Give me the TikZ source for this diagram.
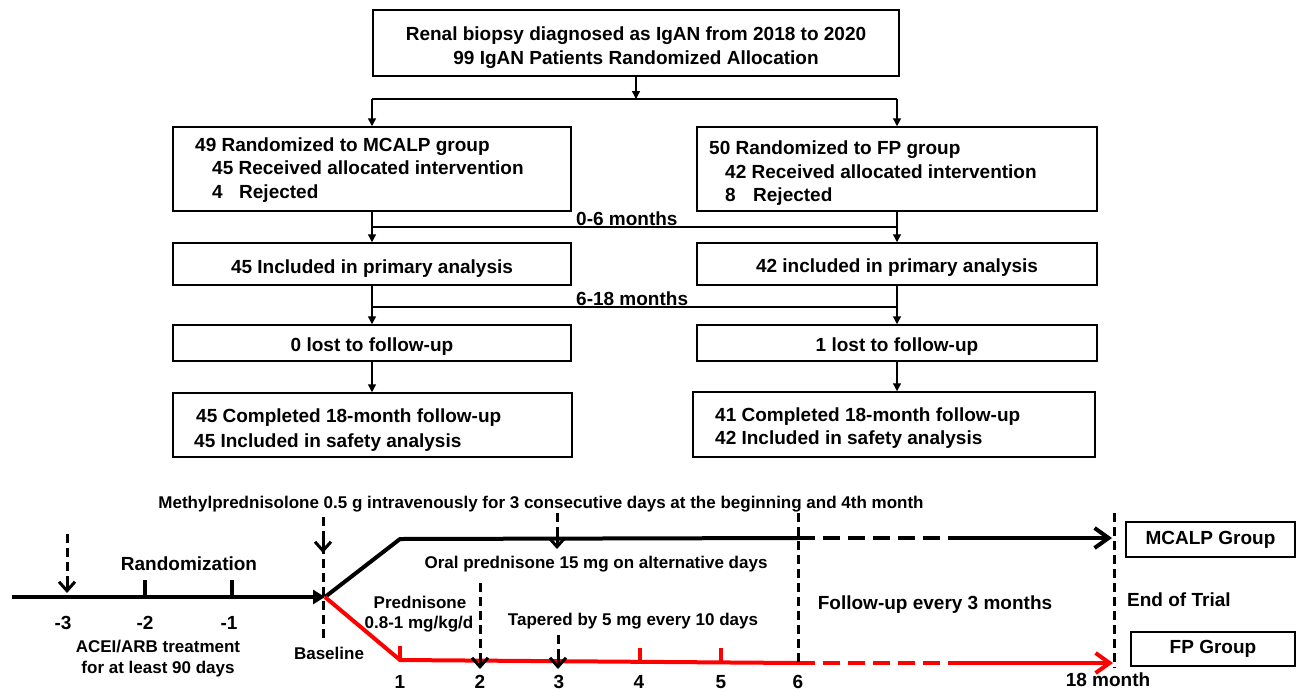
\documentclass[tikz,border=0pt]{standalone}
\usepackage{fontspec}
\setmainfont{Liberation Sans}
\usetikzlibrary{arrows.meta}
\begin{document}
\begin{tikzpicture}[x=1pt,y=-1pt,
  big/.style={font=\bfseries\fontsize{19}{23}\selectfont},
  small/.style={font=\bfseries\fontsize{17}{20}\selectfont},
  box/.style={draw, line width=1.5pt, inner sep=0pt, big},
  tb/.style={inner sep=0pt, anchor=base, big},
  tbw/.style={inner sep=0pt, anchor=base west, big},
  ts/.style={inner sep=0pt, anchor=base, small},
  ln/.style={line width=1.4pt},
  flow/.style={line width=1.4pt, -{Triangle[length=8pt,width=8pt]}},
  tl/.style={line width=4pt},
  tlred/.style={line width=4pt, red},
  hdash/.style={dash pattern=on 17pt off 8pt},
  dline/.style={line width=3pt, dash pattern=on 9pt off 5pt},
  vtip/.style={line width=3pt, -{Straight Barb[length=9pt,width=16pt]}},
  endarrow/.style={-{Straight Barb[length=14pt,width=20pt]}}
]
\useasboundingbox (0,0) rectangle (1298,691);

% ---------- flowchart boxes ----------
\node[box, minimum width=526, minimum height=66] (top) at (636,43) {};
\node[tb] (top1) at (636,40) {Renal biopsy diagnosed as IgAN from 2018 to 2020};
\node[tb] (top2) at (636,64) {99 IgAN Patients Randomized Allocation};

\node[box, minimum width=398, minimum height=84] (b2l) at (372,169) {};
\node[tbw] (b2l1) at (195,151) {49 Randomized to MCALP group};
\node[tbw] (b2l2) at (212,174) {45 Received allocated intervention};
\node[tbw] (b2l3) at (212,198) {4};
\node[tbw] (b2l4) at (239,198) {Rejected};

\node[box, minimum width=400, minimum height=84] (b2r) at (897,169) {};
\node[tbw] (b2r1) at (709,154) {50 Randomized to FP group};
\node[tbw] (b2r2) at (725,178) {42 Received allocated intervention};
\node[tbw] (b2r3) at (725,201) {8};
\node[tbw] (b2r4) at (753,201) {Rejected};

\node[box, minimum width=398, minimum height=42] (b3l) at (372,264) {};
\node[tb] (b3lt) at (372,273) {45 Included in primary analysis};
\node[box, minimum width=400, minimum height=42] (b3r) at (897,264) {};
\node[tb] (b3rt) at (897,272) {42 included in primary analysis};

\node[box, minimum width=398, minimum height=36] (b4l) at (372,343) {};
\node[tb] (b4lt) at (372,351) {0 lost to follow-up};
\node[box, minimum width=400, minimum height=36] (b4r) at (897,343) {};
\node[tb] (b4rt) at (897,351) {1 lost to follow-up};

\node[box, minimum width=399, minimum height=64] (b5l) at (372.5,425) {};
\node[tbw] (b5l1) at (196,422) {45 Completed 18-month follow-up};
\node[tbw] (b5l2) at (194,447) {45 Included in safety analysis};
\node[box, minimum width=402, minimum height=65] (b5r) at (894,424.5) {};
\node[tbw] (b5r1) at (715,421) {41 Completed 18-month follow-up};
\node[tbw] (b5r2) at (715,444) {42 Included in safety analysis};

% ---------- flowchart connectors ----------
\coordinate (split) at (636,99);
\coordinate (m06) at (0,227);
\coordinate (m618) at (0,307);
\draw[flow] (top.south) -- (split);
\draw[ln] (b2l.north |- split) -- (b2r.north |- split);
\draw[flow] (b2l.north |- split) -- (b2l.north);
\draw[flow] (b2r.north |- split) -- (b2r.north);

\draw[flow] (b2l.south) -- (b3l.north);
\draw[flow] (b2r.south) -- (b3r.north);
\draw[ln] (b2l.south |- m06) -- (b2r.south |- m06);
\node[tbw] (l06) at (576,225) {0-6 months};

\draw[flow] (b3l.south) -- (b4l.north);
\draw[flow] (b3r.south) -- (b4r.north);
\draw[ln] (b3l.south |- m618) -- (b3r.south |- m618);
\node[tbw] (l618) at (576,305) {6-18 months};

\draw[flow] (b4l.south) -- (b4l.south |- b5l.north);
\draw[flow] (b4r.south) -- (b4r.south |- b5r.north);

% ---------- timeline ----------
\coordinate (t0) at (12,597);
\coordinate (base) at (325,597);
\coordinate (bk1) at (400,539);
\coordinate (bk6) at (798,538);
\coordinate (bkd) at (955,538);
\coordinate (bkend) at (1112,538);
\coordinate (rd1) at (400,660);
\coordinate (rd6) at (798,663);
\coordinate (rdd) at (957,663);
\coordinate (rdend) at (1113,663);

\draw[tl, -{Triangle[length=12pt,width=14pt]}] (t0) -- (base);
\draw[tl] (145,597) -- (145,580);
\draw[tl] (232,597) -- (232,580);
\draw[dline] (67,534) -- (67,584);
\draw[vtip] (67,580) -- (67,593);

\draw[tl, line join=miter] (base) -- (bk1) -- (bk6);
\draw[tl, hdash] (bk6) -- (bkd);
\draw[tl, endarrow] (bkd) -- (bkend);

\draw[tlred, line join=miter] (base) -- (rd1) -- (rd6);
\draw[tlred, hdash] (rd6) -- (rdd);
\draw[tlred, endarrow] (rdd) -- (rdend);

\draw[tlred] (400,660) -- (400,646);
\draw[tlred] (640,662) -- (640,648);
\draw[tlred] (721,662) -- (721,648);

\draw[dline] (323,517) -- (323,638);
\draw[vtip] (323,540) -- (323,553);
\draw[dline] (557,513) -- (557,540);
\draw[vtip] (557,536) -- (557,549);
\draw[dline] (480,583) -- (480,660);
\draw[vtip] (480,656) -- (480,669);
\draw[dline] (558,635) -- (558,660);
\draw[vtip] (558,656) -- (558,669);
\draw[dline] (798,513) -- (798,666);
\draw[dline] (1114,513) -- (1114,668);

% ---------- timeline labels ----------
\node[ts] (methyl) at (541,508) {Methylprednisolone 0.5 g intravenously for 3 consecutive days at the beginning and 4th month};
\node[tb] (rand) at (189,570) {Randomization};
\node[tb] (m3) at (63,629) {-3};
\node[tb] (m2) at (145,629) {-2};
\node[tb] (m1) at (229,629) {-1};
\node[ts] (acei1) at (158,652) {ACEI/ARB treatment};
\node[ts] (acei2) at (158,673) {for at least 90 days};
\node[ts] (basel) at (329,659) {Baseline};
\node[ts] (oral) at (596,568) {Oral prednisone 15 mg on alternative days};
\node[ts] (pred1) at (420,608) {Prednisone};
\node[ts] (pred2) at (419,628) {0.8-1 mg/kg/d};
\node[ts] (taper) at (633,625) {Tapered by 5 mg every 10 days};
\node[tb] (follow) at (935,609) {Follow-up every 3 months};
\node[tbw] (endtrial) at (1127,606) {End of Trial};
\node[tb] (n1) at (400,688) {1};
\node[tb] (n2) at (480,688) {2};
\node[tb] (n3) at (559,688) {3};
\node[tb] (n4) at (639,688) {4};
\node[tb] (n5) at (721,688) {5};
\node[tb] (n6) at (798,688) {6};
\node[tb] (n18) at (1108,686) {18 month};

\node[box, minimum width=169, minimum height=35] (mcalp) at (1210.5,539.5) {MCALP Group};
\node[box, minimum width=164, minimum height=34] (fp) at (1213,649) {FP Group};
\end{tikzpicture}
\end{document}
